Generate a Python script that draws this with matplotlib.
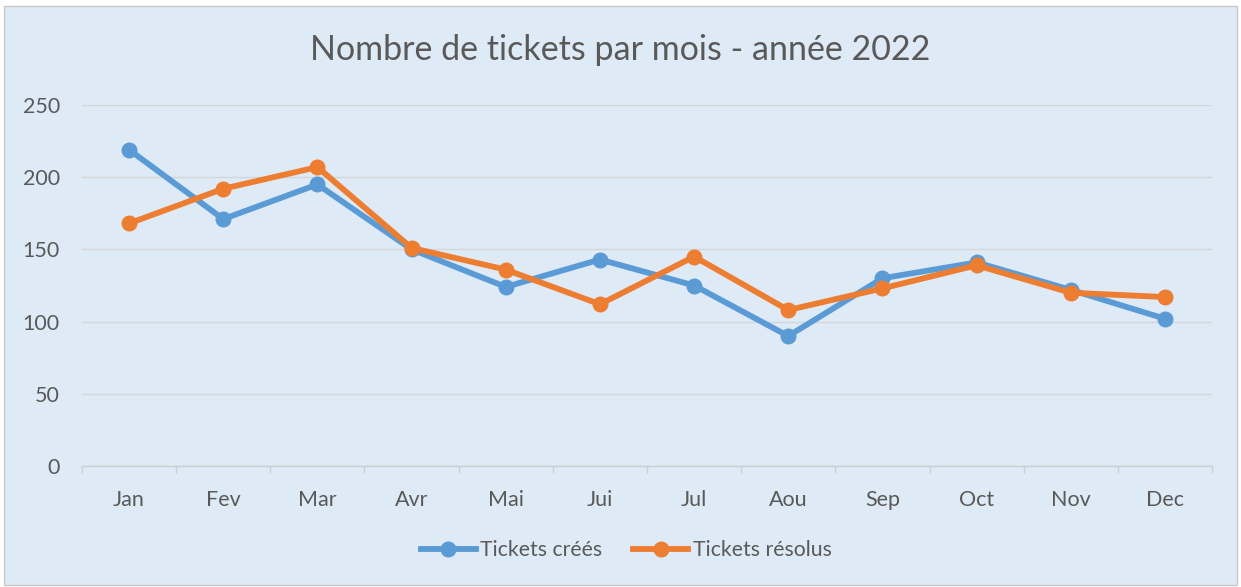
import matplotlib.pyplot as plt
import numpy as np
from matplotlib.patches import Rectangle

months = ["Jan", "Fev", "Mar", "Avr", "Mai", "Jui", "Jul", "Aou", "Sep", "Oct", "Nov", "Dec"]
tickets_crees = [219, 171, 195, 150, 124, 143, 125, 90, 130, 141, 122, 102]
tickets_resolus = [168, 192, 207, 151, 136, 112, 145, 108, 123, 139, 120, 117]

BLUE = "#5B9BD5"
ORANGE = "#ED7D31"
BG = "#DEEBF7"
TEXT = "#595959"
GRID = "#D3D6D9"

plt.rcParams["font.family"] = ["Lato", "DejaVu Sans"]

fig = plt.figure(figsize=(12.41, 5.87), dpi=100)
fig.patch.set_facecolor("white")
# chart area panel with thin grey frame, kept behind the axes
fig.patches.append(Rectangle((4 / 1241, 2 / 587), 1233 / 1241, 579 / 587,
                             transform=fig.transFigure, facecolor=BG,
                             edgecolor="#C8C8C8", linewidth=1.0, zorder=-10))

ax = fig.add_axes([82 / 1241, 1 - 466 / 587, 1130 / 1241, 361 / 587])
ax.set_facecolor("none")

x = np.arange(len(months))
ax.plot(x, tickets_crees, color=BLUE, linewidth=4.2, marker="o", markersize=10.5,
        solid_joinstyle="round", label="Tickets créés", zorder=3)
ax.plot(x, tickets_resolus, color=ORANGE, linewidth=4.2, marker="o", markersize=10.5,
        solid_joinstyle="round", label="Tickets résolus", zorder=4)

ax.set_xlim(-0.5, len(months) - 0.5)
ax.set_ylim(0, 250)
ax.set_yticks(np.arange(0, 251, 50))
ax.set_xticks(x)
ax.set_xticklabels(months)
ax.set_xticks(np.arange(-0.5, len(months), 1), minor=True)

ax.grid(axis="y", color=GRID, linewidth=1.0)
ax.set_axisbelow(True)
for side in ("top", "right", "left"):
    ax.spines[side].set_visible(False)
ax.spines["bottom"].set_color("#CCCFD2")
ax.spines["bottom"].set_linewidth(1.0)

ax.tick_params(axis="y", length=0, pad=16, labelsize=15.5, labelcolor=TEXT)
ax.tick_params(axis="x", which="major", length=0, pad=17, labelsize=15.5, labelcolor=TEXT)
ax.tick_params(axis="x", which="minor", length=5, width=1.0, color="#CCCFD2")

fig.text(0.5, 1 - 50 / 587, "Nombre de tickets par mois - année 2022",
         ha="center", va="center", fontsize=24.5, color=TEXT)

fig.legend(loc="center", bbox_to_anchor=(626 / 1241, 1 - 550 / 587), ncol=2,
           frameon=False, fontsize=15.3, labelcolor=TEXT, handlelength=2.6,
           handletextpad=0.2, columnspacing=1.45)

fig.savefig("out.png", dpi=100, facecolor=fig.get_facecolor())
